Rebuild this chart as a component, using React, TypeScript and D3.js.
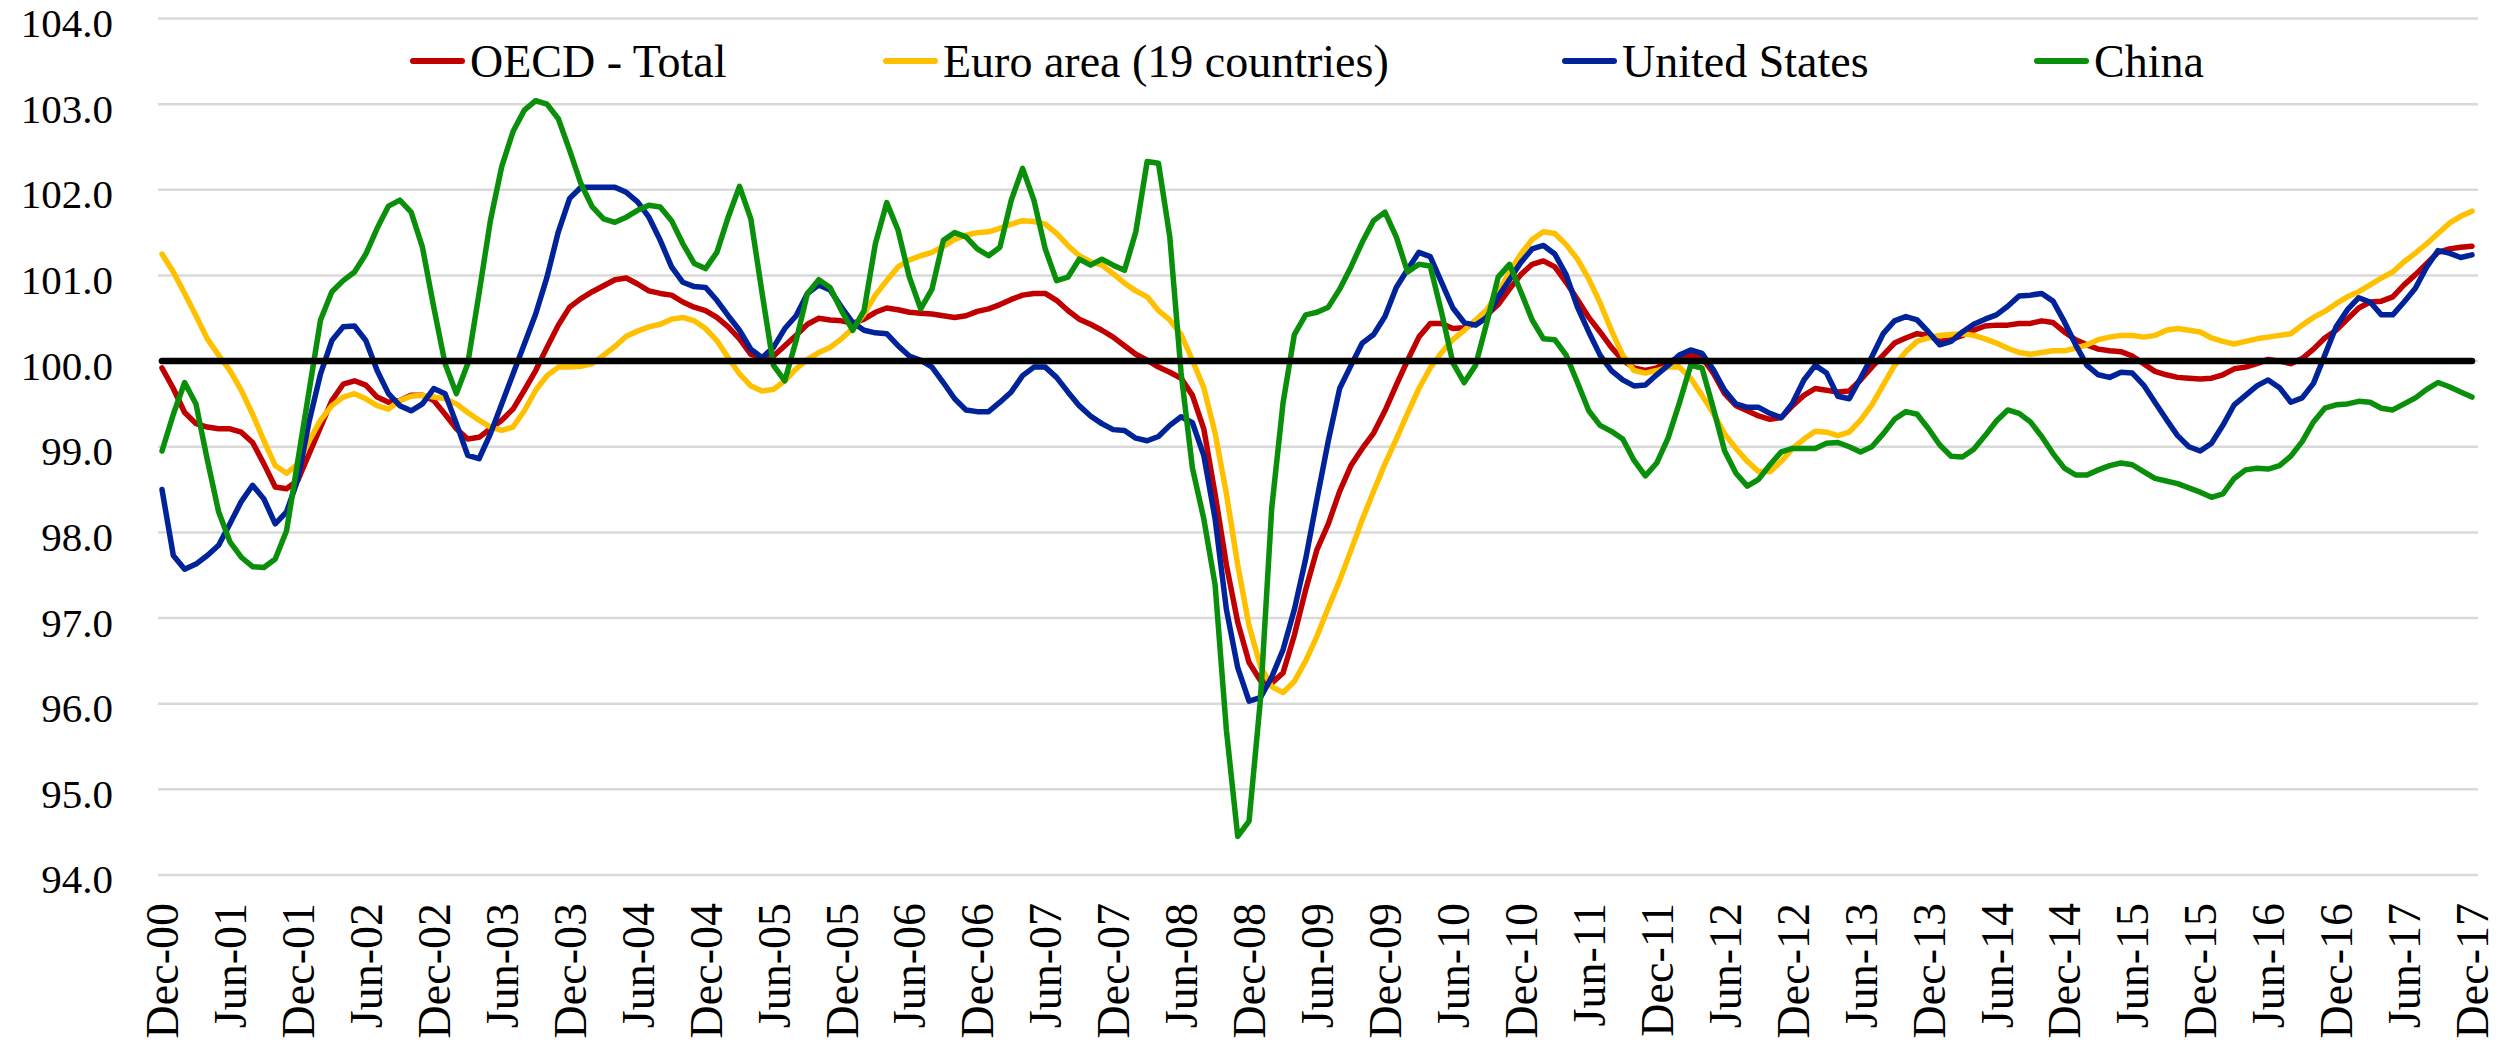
import * as d3 from "d3";

// Monthly composite leading indicators, Dec-2000 .. Dec-2017 (205 months)
const startMonth = new Date(2000, 11, 1);

const oecdTotal = [
  99.92, 99.68, 99.4, 99.27, 99.23, 99.21, 99.21, 99.17, 99.05, 98.8, 98.53, 98.51,
  98.61, 98.92, 99.23, 99.54, 99.73, 99.77, 99.72, 99.58, 99.52, 99.54, 99.6, 99.6,
  99.54, 99.38, 99.21, 99.09, 99.11, 99.21, 99.31, 99.44, 99.66, 99.89, 100.16, 100.42,
  100.63, 100.73, 100.81, 100.88, 100.95, 100.97, 100.9, 100.82, 100.79, 100.77, 100.69, 100.63,
  100.59, 100.51, 100.4, 100.26, 100.08, 100.04, 100.06, 100.18, 100.3, 100.43, 100.5, 100.48,
  100.47, 100.44, 100.49, 100.57, 100.62, 100.6, 100.57, 100.56, 100.55, 100.53, 100.51, 100.53,
  100.58, 100.61, 100.66, 100.72, 100.77, 100.79, 100.79, 100.71, 100.59, 100.49, 100.43, 100.36,
  100.28, 100.18, 100.08, 100.01, 99.93, 99.87, 99.8, 99.6, 99.21, 98.45, 97.62, 96.95,
  96.48, 96.27, 96.24, 96.36, 96.8, 97.33, 97.8, 98.1, 98.48, 98.78, 98.98, 99.16,
  99.42, 99.72, 100.01, 100.28, 100.44, 100.44, 100.38, 100.39, 100.44, 100.54, 100.66, 100.84,
  101.01, 101.13, 101.17, 101.1, 100.92, 100.72, 100.51, 100.34, 100.16, 100.01, 99.92, 99.89,
  99.92, 99.99, 100.04, 100.07, 100.04, 99.86, 99.62, 99.48, 99.42, 99.36, 99.32, 99.34,
  99.48, 99.6, 99.68, 99.66, 99.64, 99.65, 99.78, 99.93, 100.07, 100.21, 100.27, 100.32,
  100.3, 100.23, 100.25, 100.3, 100.36, 100.41, 100.42, 100.42, 100.44, 100.44, 100.47, 100.45,
  100.34, 100.25, 100.19, 100.14, 100.12, 100.11, 100.06, 99.97, 99.88, 99.84, 99.81, 99.8,
  99.79, 99.8, 99.84, 99.91, 99.93, 99.97, 100.02, 100.0, 99.97, 100.03, 100.14, 100.27,
  100.36, 100.49, 100.62, 100.69, 100.7, 100.75, 100.89, 101.01, 101.14, 101.27, 101.31, 101.33,
  101.34,
];

const euroArea = [
  101.25, 101.04, 100.79, 100.53, 100.26, 100.07, 99.89, 99.66, 99.38, 99.07, 98.78, 98.69,
  98.8, 99.07, 99.31, 99.48, 99.58, 99.62, 99.56, 99.48, 99.44, 99.54, 99.59, 99.6,
  99.58, 99.56, 99.5, 99.4, 99.31, 99.23, 99.19, 99.23, 99.42, 99.66, 99.83, 99.93,
  99.93, 99.94, 99.97, 100.07, 100.17, 100.29, 100.35, 100.4, 100.43, 100.49, 100.51, 100.47,
  100.38, 100.24, 100.04, 99.85, 99.71, 99.65, 99.67, 99.77, 99.91, 100.02, 100.1, 100.16,
  100.26, 100.38, 100.55, 100.77, 100.94, 101.1, 101.18, 101.23, 101.27, 101.34, 101.42, 101.47,
  101.5, 101.51, 101.55, 101.6, 101.64, 101.63, 101.6, 101.49, 101.35, 101.23, 101.16, 101.12,
  101.02, 100.91, 100.82, 100.75, 100.59, 100.48, 100.31, 100.01, 99.69, 99.16, 98.45, 97.62,
  96.91, 96.44, 96.2, 96.13, 96.26, 96.5, 96.79, 97.12, 97.44, 97.79, 98.15, 98.48,
  98.8, 99.09, 99.39, 99.68, 99.92, 100.1, 100.25, 100.36, 100.48, 100.6, 100.8, 101.04,
  101.25, 101.42, 101.51, 101.49, 101.36, 101.19, 100.96, 100.68, 100.36, 100.07, 99.89, 99.86,
  99.89, 99.93, 99.93, 99.8, 99.6, 99.39, 99.15, 98.98, 98.83, 98.71, 98.71, 98.83,
  98.98, 99.09, 99.18, 99.17, 99.13, 99.17, 99.31, 99.49, 99.72, 99.95, 100.11, 100.23,
  100.27, 100.3, 100.31, 100.32, 100.3, 100.26, 100.21, 100.15, 100.1, 100.08, 100.1, 100.12,
  100.12, 100.15, 100.19, 100.25, 100.28, 100.3, 100.3, 100.28, 100.3, 100.36, 100.38, 100.36,
  100.34, 100.27, 100.23, 100.2, 100.23, 100.26, 100.28, 100.3, 100.32, 100.42, 100.51, 100.58,
  100.67, 100.75, 100.81, 100.89, 100.97, 101.04, 101.16, 101.26, 101.37, 101.49, 101.61, 101.69,
  101.75,
];

const unitedStates = [
  98.5, 97.73, 97.57, 97.63, 97.73, 97.85, 98.1, 98.36, 98.55, 98.39, 98.1, 98.24,
  98.62, 99.3, 99.85, 100.24, 100.4, 100.41, 100.24, 99.89, 99.62, 99.48, 99.42, 99.5,
  99.68, 99.62, 99.27, 98.9, 98.86, 99.15, 99.5, 99.85, 100.2, 100.55, 100.98, 101.51,
  101.9, 102.03, 102.03, 102.03, 102.03, 101.97, 101.86, 101.68, 101.41, 101.1, 100.92, 100.87,
  100.86, 100.71, 100.53, 100.36, 100.14, 100.04, 100.16, 100.38, 100.53, 100.79, 100.89, 100.83,
  100.63, 100.45, 100.36, 100.33, 100.32, 100.18, 100.06, 100.01, 99.93, 99.75, 99.56, 99.43,
  99.41, 99.41, 99.52, 99.64, 99.83, 99.93, 99.93, 99.81, 99.64, 99.48, 99.36, 99.27,
  99.2, 99.19, 99.1, 99.07, 99.12, 99.25, 99.35, 99.28, 98.9, 98.16, 97.1, 96.42,
  96.03, 96.07, 96.31, 96.63, 97.1, 97.69, 98.39, 99.07, 99.68, 99.95, 100.21, 100.31,
  100.52, 100.86, 101.07, 101.27, 101.22, 100.92, 100.62, 100.45, 100.42, 100.51, 100.75, 100.95,
  101.15, 101.31, 101.35, 101.25, 101.01, 100.63, 100.34, 100.07, 99.89, 99.78, 99.71, 99.72,
  99.84, 99.95, 100.07, 100.13, 100.09, 99.9, 99.66, 99.5, 99.46, 99.46, 99.39, 99.34,
  99.51, 99.78, 99.95, 99.86, 99.59, 99.56, 99.8, 100.05, 100.32, 100.47, 100.52, 100.48,
  100.34, 100.19, 100.23, 100.34, 100.43, 100.49, 100.54, 100.64, 100.76, 100.77, 100.79, 100.7,
  100.46, 100.19, 99.95, 99.84, 99.81, 99.87, 99.86, 99.72, 99.52, 99.32, 99.13, 99.0,
  98.95, 99.04, 99.25, 99.49, 99.6, 99.71, 99.78, 99.69, 99.52, 99.57, 99.74, 100.07,
  100.4, 100.6, 100.74, 100.69, 100.54, 100.54, 100.69, 100.85, 101.1, 101.29, 101.26, 101.21,
  101.24,
];

const china = [
  98.95, 99.38, 99.75, 99.5, 98.85, 98.24, 97.89, 97.71, 97.6, 97.59, 97.69, 98.02,
  98.84, 99.66, 100.48, 100.81, 100.94, 101.04, 101.25, 101.55, 101.81, 101.88, 101.74, 101.33,
  100.63, 99.97, 99.62, 99.97, 100.79, 101.64, 102.27, 102.68, 102.93, 103.04, 103.0, 102.83,
  102.46, 102.07, 101.8, 101.66, 101.62, 101.68, 101.76, 101.82, 101.8, 101.64, 101.37, 101.14,
  101.08, 101.27, 101.68, 102.04, 101.66, 100.79, 99.95, 99.77, 100.24, 100.79, 100.95, 100.86,
  100.59, 100.36, 100.59, 101.37, 101.85, 101.53, 100.98, 100.61, 100.84, 101.41, 101.5, 101.45,
  101.31, 101.23, 101.33, 101.88, 102.25, 101.88, 101.31, 100.94, 100.98, 101.19, 101.12, 101.19,
  101.12, 101.06, 101.51, 102.33, 102.31, 101.45, 99.86, 98.75, 98.16, 97.39, 95.69, 94.45,
  94.63, 96.04, 98.28, 99.51, 100.31, 100.54, 100.57, 100.63, 100.84, 101.1, 101.39, 101.64,
  101.74, 101.45, 101.04, 101.13, 101.11, 100.57, 99.98, 99.75, 99.95, 100.45, 100.98, 101.13,
  100.81, 100.48, 100.26, 100.25, 100.07, 99.75, 99.42, 99.25, 99.18, 99.09, 98.84, 98.66,
  98.81, 99.1, 99.51, 99.95, 99.92, 99.45, 98.95, 98.69, 98.54, 98.62, 98.79, 98.94,
  98.98, 98.98, 98.98, 99.04, 99.05, 99.0, 98.94, 99.0, 99.15, 99.32, 99.41, 99.38,
  99.21, 99.02, 98.89, 98.88, 98.97, 99.13, 99.3, 99.43, 99.39, 99.29, 99.12, 98.92,
  98.75, 98.67, 98.67, 98.73, 98.78, 98.81, 98.79, 98.71, 98.63, 98.6, 98.57, 98.52,
  98.47, 98.41, 98.45, 98.63, 98.73, 98.75, 98.74, 98.78, 98.89, 99.06, 99.29, 99.45,
  99.49, 99.5, 99.53, 99.52, 99.45, 99.43, 99.5, 99.57, 99.67, 99.75, 99.7, 99.64,
  99.58,
];

const seriesNames = ["OECD - Total", "Euro area (19 countries)", "United States", "China"];
const seriesColors = ["#C00000", "#FFC000", "#002399", "#0A8F0A"];
const seriesValues = [oecdTotal, euroArea, unitedStates, china];

const yTicks = [94, 95, 96, 97, 98, 99, 100, 101, 102, 103, 104];

const xTickLabels = [
  "Dec-00", "Jun-01", "Dec-01", "Jun-02", "Dec-02", "Jun-03", "Dec-03", "Jun-04", "Dec-04",
  "Jun-05", "Dec-05", "Jun-06", "Dec-06", "Jun-07", "Dec-07", "Jun-08", "Dec-08", "Jun-09",
  "Dec-09", "Jun-10", "Dec-10", "Jun-11", "Dec-11", "Jun-12", "Dec-12", "Jun-13", "Dec-13",
  "Jun-14", "Dec-14", "Jun-15", "Dec-15", "Jun-16", "Dec-16", "Jun-17", "Dec-17",
];

const months = d3.timeMonth.range(startMonth, d3.timeMonth.offset(startMonth, oecdTotal.length));

const FONT = "'Liberation Serif', 'Times New Roman', serif";

export default function App() {
  const width = 2509;
  const height = 1046;
  const plot = { left: 158, right: 2478, top: 18.5, bottom: 875 };

  const x = d3
    .scaleLinear()
    .domain([0, months.length - 1])
    .range([162, 2472]);

  const y = d3.scaleLinear().domain([94, 104]).range([plot.bottom, plot.top]);

  const line = d3
    .line<number>()
    .x((_, i) => x(i))
    .y((d) => y(d));

  // legend layout (swatch start per entry)
  const legendY = 61;
  const legendX = [410, 883, 1562, 2034];

  return (
    <svg
      width={width}
      height={height}
      style={{ position: "absolute", left: 0, top: 0, background: "#fff" }}
    >
      {/* gridlines */}
      {yTicks.map((t) => (
        <line
          key={t}
          x1={plot.left}
          x2={plot.right}
          y1={y(t)}
          y2={y(t)}
          stroke="#D9D9D9"
          strokeWidth={2.5}
        />
      ))}

      {/* y axis labels */}
      {yTicks.map((t) => (
        <text
          key={"yl" + t}
          x={113}
          y={y(t)}
          dy="0.45em"
          textAnchor="end"
          fontFamily={FONT}
          fontSize={41}
          fill="#000"
        >
          {d3.format(".1f")(t)}
        </text>
      ))}

      {/* x axis labels every 6 months */}
      {xTickLabels.map((lab, k) => {
        const xi = x(k * 6);
        return (
          <text
            key={lab}
            transform={`translate(${xi},903) rotate(-90)`}
            dy="0.35em"
            textAnchor="end"
            fontFamily={FONT}
            fontSize={46}
            fill="#000"
          >
            {lab}
          </text>
        );
      })}

      {/* series */}
      {seriesValues.map((vals, s) => (
        <path
          key={seriesNames[s]}
          d={line(vals) || ""}
          fill="none"
          stroke={seriesColors[s]}
          strokeWidth={5.5}
          strokeLinejoin="round"
          strokeLinecap="round"
        />
      ))}

      {/* 100 reference line */}
      <line
        x1={x(0)}
        x2={x(months.length - 1)}
        y1={y(100)}
        y2={y(100)}
        stroke="#000"
        strokeWidth={6.5}
        strokeLinecap="round"
      />

      {/* legend */}
      {seriesNames.map((name, s) => (
        <g key={"lg" + name} transform={`translate(${legendX[s]},${legendY})`}>
          <line
            x1={3}
            x2={52}
            y1={0}
            y2={0}
            stroke={seriesColors[s]}
            strokeWidth={6}
            strokeLinecap="round"
          />
          <text
            x={60}
            y={0}
            dy="0.35em"
            fontFamily={FONT}
            fontSize={46}
            fill="#000"
          >
            {name}
          </text>
        </g>
      ))}
    </svg>
  );
}
